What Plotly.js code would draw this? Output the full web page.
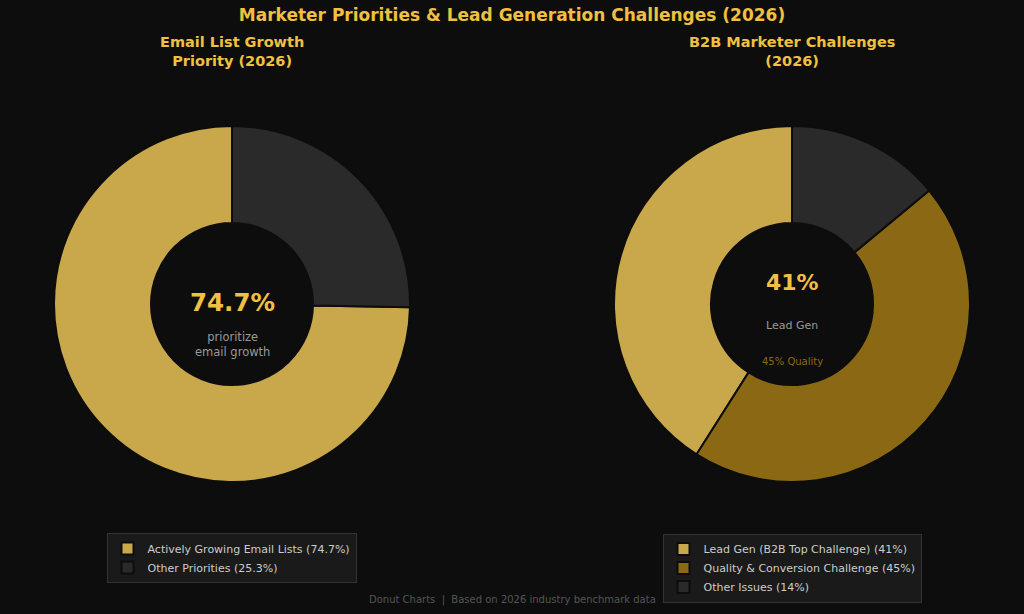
<!DOCTYPE html>
<html>
<head>
<meta charset="utf-8">
<script src="https://cdn.plot.ly/plotly-3.0.1.min.js"></script>
<style>
  html, body { margin: 0; padding: 0; background: #0d0d0d; }
  #chart { width: 1024px; height: 614px; }
</style>
</head>
<body>
<div id="chart"></div>
<script>
// Email list growth priority
const emailLabels = ['Actively Growing Email Lists (74.7%)', 'Other Priorities (25.3%)'];
const emailValues = [74.7, 25.3];
const emailColors = ['#c9a84c', '#2a2a2a'];

// B2B marketer challenges
const b2bLabels = ['Lead Gen (B2B Top Challenge) (41%)', 'Quality & Conversion Challenge (45%)', 'Other Issues (14%)'];
const b2bValues = [41, 45, 14];
const b2bColors = ['#c9a84c', '#8b6914', '#2a2a2a'];

const chartTitle = 'Marketer Priorities & Lead Generation Challenges (2026)';
const leftTitle = 'Email List Growth<br>Priority (2026)';
const rightTitle = 'B2B Marketer Challenges<br>(2026)';
const footer = 'Donut Charts  |  Based on 2026 industry benchmark data';

const FONT = 'DejaVu Sans, sans-serif';
const GOLD = '#f0c040';
const BG = '#0d0d0d';

const W = 1024, H = 614;
const R = 178;
function domainFor(cx, cy) {
  const px = cx / W, py = 1 - cy / H;
  const dx = R / W, dy = R / H;
  return { x: [px - dx, px + dx], y: [py - dy, py + dy] };
}

// In counterclockwise mode Plotly ends the first slice at 12 o'clock;
// shift it so the first slice starts there and runs counterclockwise.
function startAtTop(values) {
  const total = values.reduce((a, b) => a + b, 0);
  return -360 * values[0] / total;
}

const traces = [
  {
    type: 'pie',
    labels: emailLabels,
    values: emailValues,
    marker: { colors: emailColors, line: { color: BG, width: 2 } },
    hole: 0.455,
    sort: false,
    direction: 'counterclockwise',
    rotation: startAtTop(emailValues),
    textinfo: 'none',
    hoverinfo: 'label',
    domain: domainFor(232, 304),
    legend: 'legend'
  },
  {
    type: 'pie',
    labels: b2bLabels,
    values: b2bValues,
    marker: { colors: b2bColors, line: { color: BG, width: 2 } },
    hole: 0.455,
    sort: false,
    direction: 'counterclockwise',
    rotation: startAtTop(b2bValues),
    textinfo: 'none',
    hoverinfo: 'label',
    domain: domainFor(792, 304),
    legend: 'legend2'
  }
];

const legendStyle = {
  bgcolor: '#1a1a1a',
  bordercolor: '#333333',
  borderwidth: 1,
  font: { family: FONT, size: 11, color: '#cccccc' },
  xanchor: 'center',
  yanchor: 'middle',
  itemclick: false,
  itemdoubleclick: false
};

const layout = {
  width: W,
  height: H,
  paper_bgcolor: BG,
  plot_bgcolor: BG,
  margin: { l: 0, r: 0, t: 0, b: 0 },
  font: { family: FONT },
  title: {
    text: '<b>' + chartTitle + '</b>',
    font: { family: FONT, size: 17, color: GOLD },
    x: 0.5, xanchor: 'center',
    y: 1 - 15 / H, yanchor: 'middle'
  },
  legend: Object.assign({}, legendStyle, { x: 231.5 / W, y: 1 - 558 / H }),
  legend2: Object.assign({}, legendStyle, { x: 792 / W, y: 1 - 568 / H }),
  annotations: [
    { text: '<b>' + leftTitle + '</b>', x: 232 / W, y: 1 - 51 / H, xref: 'paper', yref: 'paper',
      showarrow: false, font: { family: FONT, size: 14.5, color: GOLD }, xanchor: 'center', yanchor: 'middle' },
    { text: '<b>' + rightTitle + '</b>', x: 792 / W, y: 1 - 51 / H, xref: 'paper', yref: 'paper',
      showarrow: false, font: { family: FONT, size: 14.5, color: GOLD }, xanchor: 'center', yanchor: 'middle' },
    { text: '<b>74.7%</b>', x: 232 / W, y: 1 - 302 / H, xref: 'paper', yref: 'paper',
      showarrow: false, font: { family: FONT, size: 24.5, color: GOLD }, xanchor: 'center', yanchor: 'middle' },
    { text: 'prioritize<br>email growth', x: 232 / W, y: 1 - 344 / H, xref: 'paper', yref: 'paper',
      showarrow: false, font: { family: FONT, size: 11.5, color: '#999999' }, xanchor: 'center', yanchor: 'middle' },
    { text: '<b>41%</b>', x: 792 / W, y: 1 - 282 / H, xref: 'paper', yref: 'paper',
      showarrow: false, font: { family: FONT, size: 22, color: GOLD }, xanchor: 'center', yanchor: 'middle' },
    { text: 'Lead Gen', x: 792 / W, y: 1 - 325 / H, xref: 'paper', yref: 'paper',
      showarrow: false, font: { family: FONT, size: 11, color: '#999999' }, xanchor: 'center', yanchor: 'middle' },
    { text: '45% Quality', x: 792 / W, y: 1 - 361 / H, xref: 'paper', yref: 'paper',
      showarrow: false, font: { family: FONT, size: 10, color: '#8b6914' }, xanchor: 'center', yanchor: 'middle' },
    { text: footer, x: 0.5, y: 1 - 600 / H, xref: 'paper', yref: 'paper',
      showarrow: false, font: { family: FONT, size: 10, color: '#555555' }, xanchor: 'center', yanchor: 'middle' }
  ]
};

Plotly.newPlot('chart', traces, layout, { displayModeBar: false });
</script>
</body>
</html>
